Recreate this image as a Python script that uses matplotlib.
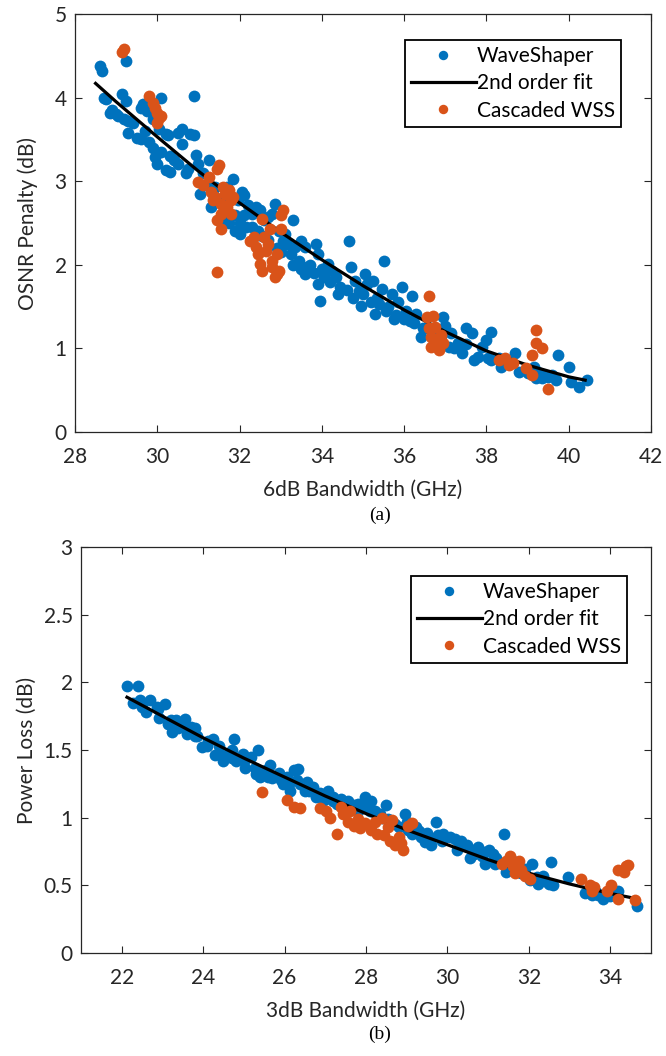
import numpy as np
import matplotlib
matplotlib.use("Agg")
import matplotlib.pyplot as plt

plt.rcParams['font.family'] = ['Lato', 'DejaVu Sans']

BLUE = '#0072BD'
ORANGE = '#D95319'
AXC = '#262626'

# ---- (a) 6dB bandwidth vs OSNR penalty ----
ws6_x = [28.6, 28.65, 28.7, 28.75, 28.85, 29.05, 29.2, 29.15, 29.25, 29.25, 29.3, 29.3, 29.5, 29.6,
         29.65, 29.75, 29.8, 29.6, 29.9, 29.95, 30.0, 30.05, 30.1, 30.2, 30.2, 30.25, 30.3, 30.4,
         30.5, 30.6, 30.6, 30.75, 30.8, 30.9, 30.9, 30.95, 31.0, 31.05, 31.25, 31.3, 31.4, 31.55,
         31.7, 31.85, 31.95, 32.05, 32.1, 32.2, 31.9, 32.0, 32.15, 32.3, 32.4, 32.5, 32.6, 32.7,
         32.85, 32.8, 32.95, 33.05, 33.1, 33.3, 33.25, 33.35, 33.45, 33.5, 33.6, 33.65, 33.85, 33.9,
         33.6, 33.9, 33.95, 34.05, 34.15, 34.25, 34.4, 34.45, 34.65, 34.7, 34.8, 34.9, 34.95, 35.05,
         35.1, 35.25, 35.3, 35.4, 35.45, 35.5, 35.6, 35.7, 35.75, 35.85, 35.95, 36.05, 36.15, 36.2,
         36.3, 36.4, 36.55, 36.95, 37.0, 37.15, 37.1, 37.3, 37.4, 37.5, 37.65, 37.7, 37.9, 38.0,
         38.1, 38.05, 38.35, 38.55, 38.7, 39.15, 39.2, 39.35, 39.5, 39.7, 39.75, 40.0, 40.05, 40.25,
         40.45,
         31.2, 31.35, 31.6, 31.75, 31.9, 32.0, 32.1, 32.3, 32.45, 32.55, 32.7, 32.9, 33.0, 33.15,
         33.3, 33.5, 33.7, 33.8, 34.0, 34.2, 34.35, 34.6, 34.75, 35.0, 35.2, 35.35, 35.55, 35.8,
         36.0, 36.25, 36.45, 36.7, 36.9, 37.2, 37.5, 37.8, 38.1, 38.3, 38.8, 39.0, 39.3, 39.6,
         30.5, 30.3, 30.7, 31.1, 29.7, 29.4, 29.9, 30.1, 28.9, 29.0]
ws6_y = [4.38, 4.32, 4.0, 3.98, 3.82, 3.78, 3.74, 4.04, 3.96, 4.44, 3.58, 3.72, 3.52, 3.88,
         3.92, 3.84, 3.47, 3.5, 3.74, 3.29, 3.21, 3.63, 4.0, 3.13, 3.56, 3.55, 3.11, 3.25,
         3.58, 3.63, 3.45, 3.15, 3.57, 4.02, 3.55, 3.31, 3.21, 2.85, 3.25, 2.69, 2.93, 2.79,
         2.93, 3.03, 2.77, 2.87, 2.83, 2.71, 2.41, 2.37, 2.45, 2.61, 2.69, 2.65, 2.53, 2.57,
         2.73, 2.61, 2.41, 2.29, 2.37, 2.53, 2.13, 2.21, 2.05, 2.29, 2.21, 1.97, 2.25, 2.13,
         1.89, 1.77, 1.57, 1.85, 2.01, 1.93, 1.65, 1.73, 2.29, 1.97, 1.81, 1.69, 1.51, 1.89,
         1.77, 1.81, 1.41, 1.53, 1.71, 2.05, 1.49, 1.65, 1.35, 1.55, 1.73, 1.45, 1.33, 1.63,
         1.41, 1.14, 1.24, 1.37, 1.27, 1.18, 1.02, 1.06, 0.94, 1.24, 1.18, 0.86, 1.02, 1.10,
         1.20, 0.88, 0.78, 0.84, 0.94, 0.78, 0.64, 0.64, 0.66, 0.62, 0.92, 0.78, 0.60, 0.54,
         0.62,
         2.95, 2.85, 2.55, 2.50, 2.60, 2.50, 2.60, 2.45, 2.40, 2.35, 2.30, 2.20, 2.15, 2.25,
         2.00, 1.95, 2.00, 1.90, 1.95, 1.80, 1.85, 1.70, 1.60, 1.65, 1.55, 1.60, 1.45, 1.40,
         1.35, 1.30, 1.25, 1.20, 1.15, 1.00, 1.05, 0.90, 0.86, 0.88, 0.72, 0.70, 0.70, 0.68,
         3.20, 3.30, 3.10, 3.10, 3.60, 3.70, 3.40, 3.35, 3.85, 3.80]
cw6_x = [29.2, 29.15, 29.8, 29.9, 29.95, 30.0, 30.05, 30.0, 30.1,
         31.0, 31.1, 31.25, 31.3, 31.4, 31.45, 31.5, 31.55, 31.55, 31.55, 31.6, 31.65, 31.7,
         31.75, 31.8, 31.8, 31.85, 31.45, 31.35, 31.45,
         32.25, 32.4, 32.45, 32.5, 32.55, 32.6, 32.65, 32.7, 32.75, 32.8, 32.85, 32.9, 32.95,
         33.0, 33.05, 33.0, 32.8, 32.55, 32.9, 32.35,
         36.6, 36.55, 36.6, 36.65, 36.7, 36.65, 36.75, 36.8, 36.85, 36.9, 36.95,
         38.3, 38.45, 38.55, 38.65, 38.95, 39.1, 39.1, 39.2, 39.2, 39.35, 39.5]
cw6_y = [4.58, 4.54, 4.02, 3.94, 3.88, 3.82, 3.76, 3.70, 3.78,
         2.99, 2.95, 3.05, 2.87, 2.81, 3.15, 3.19, 2.73, 2.61, 2.43, 2.93, 2.85, 2.69,
         2.89, 2.77, 2.61, 2.81, 2.53, 2.77, 1.91,
         2.29, 2.21, 2.13, 2.01, 2.55, 2.33, 2.17, 2.25, 2.43, 1.97, 1.85, 2.13, 1.93,
         2.59, 2.65, 2.43, 2.05, 1.93, 1.89, 2.33,
         1.63, 1.37, 1.24, 1.14, 1.39, 1.02, 1.26, 1.08, 0.98, 1.16, 1.06,
         0.86, 0.88, 0.80, 0.82, 0.76, 0.92, 0.68, 1.22, 1.06, 1.00, 0.52]
fit6_x = [28.5, 29, 30, 31, 32, 33, 34, 35, 36, 37, 38, 39, 40, 40.4]
fit6_y = [4.17, 3.95, 3.53, 3.12, 2.74, 2.39, 2.06, 1.75, 1.46, 1.20, 0.97, 0.80, 0.66, 0.62]

# ---- (b) 3dB bandwidth vs power loss ----
ws3_x = [22.13, 22.4, 22.28, 22.45, 22.6, 22.7, 22.86, 22.92, 23.07, 23.13, 23.23, 23.34, 23.39,
         23.55, 23.6, 23.7, 23.81, 23.86, 23.97, 24.13, 24.23, 24.28, 24.39, 24.49, 24.6, 24.71,
         24.76, 24.81, 24.97, 25.02, 25.18, 25.28, 25.34, 25.39, 25.55, 25.65, 25.7, 25.86, 25.97,
         26.07, 26.13, 26.23, 26.34, 26.39, 26.5, 26.55, 26.7, 26.76, 26.86, 26.97, 27.07, 27.18,
         27.28, 27.39, 27.55, 27.7, 27.81, 27.97, 28.02, 28.13, 28.23, 28.34, 28.49, 28.55, 28.65,
         28.81, 28.97, 29.02, 29.13, 29.23, 29.34, 29.44, 29.49, 29.6, 29.71, 29.76, 29.86, 30.07,
         30.18, 30.23, 30.34, 30.49, 30.55, 30.65, 30.76, 30.86, 30.92, 31.02, 31.13, 31.18, 31.39,
         31.44, 31.6, 31.81, 32.02, 32.07, 32.23, 32.34, 32.49, 32.55, 32.6, 32.97, 33.39, 33.55,
         33.7, 33.81, 34.18, 34.65,
         22.5, 22.9, 23.2, 23.5, 23.8, 24.1, 24.4, 24.7, 25.0, 25.3, 25.6, 25.9, 26.1, 26.3,
         26.6, 26.9, 27.2, 27.5, 27.8, 28.1, 28.4, 28.7, 29.0, 29.3, 29.6, 29.9, 30.3, 30.6,
         30.9, 31.2, 31.5, 31.9, 32.2, 32.4, 33.5, 33.65, 34.0]
ws3_y = [1.97, 1.97, 1.85, 1.87, 1.78, 1.87, 1.82, 1.74, 1.84, 1.69, 1.63, 1.72, 1.66,
         1.73, 1.62, 1.67, 1.66, 1.60, 1.52, 1.57, 1.58, 1.46, 1.53, 1.42, 1.47, 1.50,
         1.58, 1.42, 1.47, 1.37, 1.45, 1.37, 1.50, 1.30, 1.35, 1.39, 1.29, 1.33, 1.25,
         1.30, 1.20, 1.35, 1.36, 1.25, 1.20, 1.26, 1.23, 1.15, 1.18, 1.13, 1.20, 1.15,
         1.10, 1.14, 1.12, 1.09, 1.05, 1.15, 1.08, 1.12, 1.05, 1.03, 1.09, 0.99, 0.97,
         0.93, 1.03, 0.91, 0.88, 0.93, 0.86, 0.82, 0.89, 0.80, 0.97, 0.87, 0.83, 0.86,
         0.84, 0.76, 0.83, 0.80, 0.70, 0.73, 0.78, 0.72, 0.66, 0.76, 0.73, 0.66, 0.88,
         0.60, 0.68, 0.59, 0.54, 0.66, 0.51, 0.57, 0.51, 0.67, 0.50, 0.56, 0.44, 0.43,
         0.43, 0.40, 0.46, 0.35,
         1.82, 1.80, 1.72, 1.68, 1.60, 1.53, 1.48, 1.44, 1.42, 1.32, 1.30, 1.28, 1.25, 1.28,
         1.20, 1.15, 1.12, 1.08, 1.10, 1.05, 1.00, 0.95, 0.97, 0.90, 0.85, 0.88, 0.80, 0.76,
         0.75, 0.70, 0.66, 0.62, 0.56, 0.53, 0.47, 0.45, 0.42]
cw3_x = [25.44, 26.07, 26.23, 26.39, 26.86, 27.02, 27.12, 27.28, 27.39, 27.44, 27.55, 27.6, 27.7,
         27.81, 27.86, 27.97, 28.13, 28.23, 28.28, 28.39, 28.44, 28.55, 28.6, 28.65, 28.7, 28.81,
         28.86, 28.91, 29.02, 29.13,
         31.44, 31.54, 31.6, 31.65, 31.7, 31.75, 31.81, 31.91, 32.02, 31.34,
         33.28, 33.5, 33.6, 33.55, 33.92, 34.02, 34.18, 34.18, 34.34, 34.39, 34.44, 34.6]
cw3_y = [1.19, 1.13, 1.08, 1.07, 1.07, 1.05, 1.00, 0.88, 1.08, 1.03, 0.97, 1.05, 0.94,
         0.99, 0.92, 0.96, 0.91, 0.97, 0.88, 1.00, 0.87, 0.93, 0.83, 0.98, 0.80, 0.86,
         0.81, 0.76, 0.94, 0.96,
         0.68, 0.72, 0.64, 0.59, 0.66, 0.68, 0.61, 0.57, 0.55, 0.66,
         0.55, 0.50, 0.49, 0.46, 0.46, 0.50, 0.40, 0.61, 0.60, 0.64, 0.65, 0.39]
fit3_x = [22.13, 23, 24, 25, 26, 27, 28, 29, 30, 31, 32, 33, 34, 34.5]
fit3_y = [1.89, 1.75, 1.59, 1.44, 1.30, 1.16, 1.03, 0.91, 0.80, 0.69, 0.59, 0.51, 0.44, 0.41]

fig = plt.figure(figsize=(6.66, 10.56), dpi=100)
W, H = 666.0, 1056.0
FS = 15


def panel(rect, wx, wy, fx, fy, cx, cy, xlim, ylim, xticks, yticks, yticklabels,
          xlabel, ylabel, leg_anchor, ypad):
    l, t, r, b = rect
    ax = fig.add_axes([l / W, 1 - b / H, (r - l) / W, (b - t) / H])
    ax.plot(wx, wy, 'o', color=BLUE, markersize=8.5, markeredgewidth=0, label='WaveShaper')
    ax.plot(fx, fy, '-', color='black', linewidth=2.3, label='2nd order fit')
    ax.plot(cx, cy, 'o', color=ORANGE, markersize=8.5, markeredgewidth=0, label='Cascaded WSS')
    ax.set_xlim(*xlim)
    ax.set_ylim(*ylim)
    ax.set_xticks(xticks)
    ax.set_yticks(yticks)
    ax.set_yticklabels(yticklabels)
    ax.tick_params(direction='in', length=5, width=0.8, top=True, right=True,
                   labelsize=FS, colors=AXC)
    ax.tick_params(axis='x', pad=11)
    ax.tick_params(axis='y', pad=6)
    for s in ax.spines.values():
        s.set_color(AXC)
        s.set_linewidth(0.9)
    ax.set_xlabel(xlabel, fontsize=FS, color=AXC, labelpad=9)
    ax.set_ylabel(ylabel, fontsize=FS, color=AXC, labelpad=ypad)
    leg = ax.legend(loc='upper right', bbox_to_anchor=leg_anchor, fontsize=FS,
                    frameon=True, fancybox=False, framealpha=1, edgecolor='black',
                    handlelength=3.1, handletextpad=0.05, labelspacing=0.35,
                    borderpad=0.3, borderaxespad=0, markerscale=0.8)
    leg.get_frame().set_linewidth(1.3)
    return ax


panel((75, 14, 651, 432), ws6_x, ws6_y, fit6_x, fit6_y, cw6_x, cw6_y,
      (28, 42), (0, 5), range(28, 43, 2), range(0, 6), [str(v) for v in range(0, 6)],
      '6dB Bandwidth (GHz)', 'OSNR Penalty (dB)', (0.948, 0.938), 12)

panel((81, 547, 651, 953), ws3_x, ws3_y, fit3_x, fit3_y, cw3_x, cw3_y,
      (21, 35), (0, 3), range(22, 35, 2), [0, 0.5, 1, 1.5, 2, 2.5, 3],
      ['0', '0.5', '1', '1.5', '2', '2.5', '3'],
      '3dB Bandwidth (GHz)', 'Power Loss (dB)', (0.958, 0.929), 5)

fig.text(380 / W, 1 - 515 / H, '(a)', ha='center', va='center', fontsize=14,
         family='Liberation Serif')
fig.text(380 / W, 1 - 1034 / H, '(b)', ha='center', va='center', fontsize=14,
         family='Liberation Serif')

fig.savefig('out.png', dpi=100)
